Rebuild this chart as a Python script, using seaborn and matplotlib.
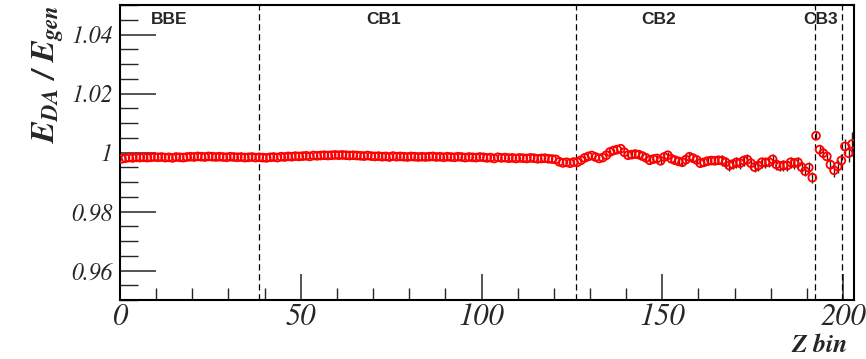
import numpy as np
import pandas as pd
import matplotlib
matplotlib.use("Agg")
import matplotlib.pyplot as plt
import seaborn as sns
from matplotlib.ticker import MultipleLocator

# bin response E_DA / E_gen (bins 0..202)
ratio = [
    0.9979, 0.9981, 0.9983, 0.9982, 0.9984, 0.9983, 0.9984, 0.9983, 0.9984, 0.9985,
    0.9984, 0.9985, 0.9983, 0.9984, 0.9982, 0.9985, 0.9984, 0.9983, 0.9985, 0.9986,
    0.9985, 0.9987, 0.9986, 0.9985, 0.9987, 0.9986, 0.9985, 0.9986, 0.9985, 0.9984,
    0.9986, 0.9985, 0.9984, 0.9985, 0.9983, 0.9984, 0.9985, 0.9983, 0.9984, 0.9983,
    0.9982, 0.9984, 0.9985, 0.9983, 0.9986, 0.9985, 0.9987, 0.9986, 0.9988, 0.9987,
    0.9988, 0.9989, 0.9987, 0.9990, 0.9989, 0.9990, 0.9991, 0.9990, 0.9991, 0.9992,
    0.9991, 0.9992, 0.9991, 0.9990, 0.9991, 0.9990, 0.9989, 0.9988, 0.9990, 0.9988,
    0.9987, 0.9988, 0.9986, 0.9987, 0.9985, 0.9988, 0.9986, 0.9987, 0.9986, 0.9985,
    0.9987, 0.9986, 0.9985, 0.9986, 0.9985, 0.9986, 0.9987, 0.9985, 0.9986, 0.9984,
    0.9986, 0.9985, 0.9984, 0.9986, 0.9985, 0.9983, 0.9985, 0.9984, 0.9983, 0.9985,
    0.9984, 0.9982, 0.9983, 0.9980, 0.9984, 0.9982, 0.9983, 0.9981, 0.9982, 0.9980,
    0.9982, 0.9981, 0.9980, 0.9982, 0.9981, 0.9979, 0.9980, 0.9981, 0.9979, 0.9978,
    0.9977, 0.9969, 0.9965, 0.9967, 0.9964, 0.9968, 0.9967, 0.9974, 0.9982, 0.9987,
    0.9990, 0.9985, 0.9980, 0.9983, 0.9991, 1.0002, 1.0007, 1.0010, 1.0013, 1.0001,
    0.9991, 0.9993, 0.9995, 0.9993, 0.9988, 0.9982, 0.9974, 0.9978, 0.9980, 0.9972,
    0.9985, 0.9991, 0.9979, 0.9974, 0.9970, 0.9967, 0.9976, 0.9986, 0.9981, 0.9975,
    0.9964, 0.9967, 0.9971, 0.9973, 0.9972, 0.9974, 0.9973, 0.9967, 0.9956, 0.9961,
    0.9967, 0.9964, 0.9973, 0.9976, 0.9964, 0.9951, 0.9956, 0.9967, 0.9966, 0.9968,
    0.9977, 0.9960, 0.9954, 0.9957, 0.9956, 0.9967, 0.9964, 0.9967, 0.9951, 0.9937,
    0.9949, 0.9915, 1.0057, 1.0010, 0.9998, 0.9987, 0.9959, 0.9940, 0.9953, 0.9973,
    1.0021, 0.9998, 1.0029,
]

# error per bin
ratio_err = (
    [0.0003] * 126
    + [0.0006] * 14
    + [0.0012] * 26
    + [0.0018] * 26
    + [0.0012, 0.0012, 0.0014, 0.0015, 0.0018, 0.0022, 0.0022, 0.0022, 0.0025, 0.0030, 0.0040]
)

zbin = [i + 0.5 for i in range(len(ratio))]

# calorimeter region boundaries and labels
boundaries = [38.4, 126.0, 192.3, 199.8]
region_names = ["BBE", "CB1", "CB2", "CB3"]
region_x = [8.5, 73, 149, 193.7]
region_ha = ["left", "center", "center", "center"]

# axis ticks
x_ticks = [0, 50, 100, 150, 200]
x_ticklabels = ["0", "50", "100", "150", "200"]
y_ticks = [0.96, 0.98, 1.00, 1.02, 1.04]
y_ticklabels = ["0.96", "0.98", "1", "1.02", "1.04"]

data = pd.DataFrame({"zbin": zbin, "ratio": ratio, "err": ratio_err})

sns.set_theme(style="white")
plt.rcParams["font.family"] = "STIXGeneral"
plt.rcParams["mathtext.fontset"] = "custom"
plt.rcParams["mathtext.it"] = "STIXGeneral:italic:bold"
plt.rcParams["mathtext.rm"] = "STIXGeneral:italic:bold"

fig = plt.figure(figsize=(8.66, 3.59), dpi=100)
ax = fig.add_axes([0.1386, 0.164, 0.8475, 0.822])

ax.errorbar(data["zbin"], data["ratio"], yerr=data["err"], fmt="none",
            ecolor="#222222", elinewidth=1.0, capsize=0, zorder=2)
sns.scatterplot(data=data, x="zbin", y="ratio", ax=ax, marker="o", s=32,
                color="red", facecolor="none", edgecolor="red", linewidth=1.3,
                zorder=3, legend=False)

for b in boundaries:
    ax.axvline(b, color="black", lw=0.9, ls=(0, (5, 3)), zorder=1)

for name, xx, ha in zip(region_names, region_x, region_ha):
    ax.text(xx, 1.0452, name, ha=ha, va="center", fontsize=12.5,
            fontweight="bold", style="normal", family="Liberation Sans")

ax.set_xlim(0, 203)
ax.set_ylim(0.95, 1.05)

ax.set_xticks(x_ticks)
ax.set_xticklabels(x_ticklabels, fontstyle="italic")
ax.set_yticks(y_ticks)
ax.set_yticklabels(y_ticklabels, fontstyle="italic")
ax.xaxis.set_minor_locator(MultipleLocator(10))
ax.yaxis.set_minor_locator(MultipleLocator(0.005))

ax.tick_params(axis="x", which="major", direction="in", length=19, width=1.1,
               labelsize=22, pad=2, bottom=True, top=False)
ax.tick_params(axis="x", which="minor", direction="in", length=9, width=1.0,
               bottom=True, top=False)
ax.tick_params(axis="y", which="major", direction="in", length=26, width=1.1,
               labelsize=17, pad=5, left=True, right=False)
ax.tick_params(axis="y", which="minor", direction="in", length=13, width=1.0,
               left=True, right=False)

for sp in ax.spines.values():
    sp.set_color("black")
    sp.set_linewidth(1.5)
    sp.set_visible(True)

ax.set_xlabel("Z bin", fontsize=18.5, fontweight="bold", fontstyle="italic",
              ha="right", va="top")
ax.xaxis.set_label_coords(0.992, -0.112)
ax.set_ylabel(r"$E_{DA}$ / $E_{gen}$", loc="top", fontsize=23.5,
              fontweight="bold", fontstyle="italic", labelpad=4)

fig.savefig("out.png", dpi=100)
